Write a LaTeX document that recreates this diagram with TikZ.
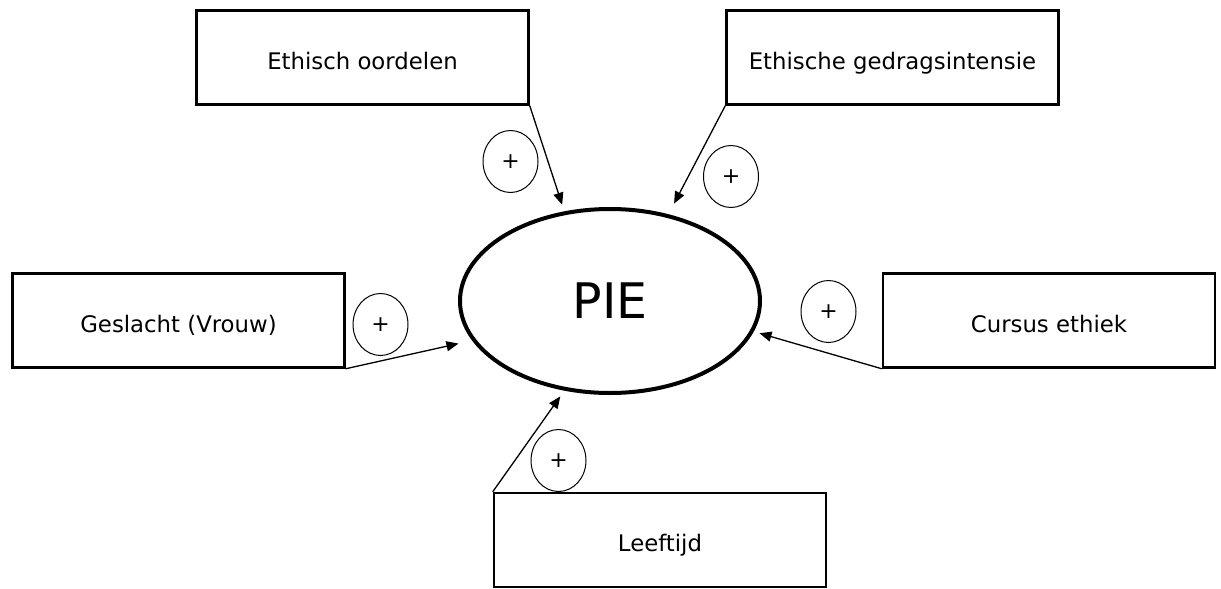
\documentclass[tikz,border=0pt]{standalone}
\usepackage{fontspec}
\setmainfont{DejaVu Sans}
\usetikzlibrary{
	arrows.meta, shapes.geometric, positioning
}

\begin{document}
\begin{tikzpicture}[x=1pt, y=-1pt,
	factor/.style={draw, line width=2.5pt, minimum width=332pt, minimum height=94pt,
		inner sep=0pt, text height=23pt, text depth=0pt, font=\fontsize{22.8}{27}\selectfont},
	construct/.style={ellipse, draw, line width=4pt, minimum width=300pt, minimum height=184pt,
		inner sep=0pt, font=\fontsize{49}{58}\selectfont},
	sign/.style={ellipse, draw, line width=1pt, minimum width=55pt, minimum height=62pt,
		inner sep=0pt, font=\fontsize{22}{26}\selectfont},
	effect/.style={-{Triangle[length=12pt,width=10pt]}, line width=1.3pt}]
	\useasboundingbox (0,0) rectangle (1221,589);
	% centrale variabele
	\node[construct] (pie) at (610,301) {PIE};
	% factoren
	\node[factor] (oordeel)  at (362.5,57.5) {Ethisch oordelen};
	\node[factor] (intensie) at (892.5,57.5) {Ethische gedragsintensie};
	\node[factor] (geslacht) at (178.5,320.5) {Geslacht (Vrouw)};
	\node[factor] (cursus)   at (1049,320.5) {Cursus ethiek};
	\node[factor] (leeftijd) at (660,540) {Leeftijd};
	% plustekens
	\foreach \n/\x/\y in {a/510.5/161.5, b/731/176.5, c/380.5/324.5, d/828.5/311.5, e/558.5/460.5}
		{\node[sign] (p\n) at (\x,\y) {+};}
	% pijlen
	\draw[effect, shorten >=7pt]  (oordeel.south east) -- (pie.117);
	\draw[effect, shorten >=12pt] (intensie.south west) -- (pie.56);
	\draw[effect, shorten >=14pt] (geslacht.south east) -- (pie.196);
	\draw[effect, shorten >=6pt]  (cursus.south west) -- (pie.348);
	\draw[effect, shorten >=7pt]  (leeftijd.north west) -- (pie.243);
\end{tikzpicture}
\end{document}
